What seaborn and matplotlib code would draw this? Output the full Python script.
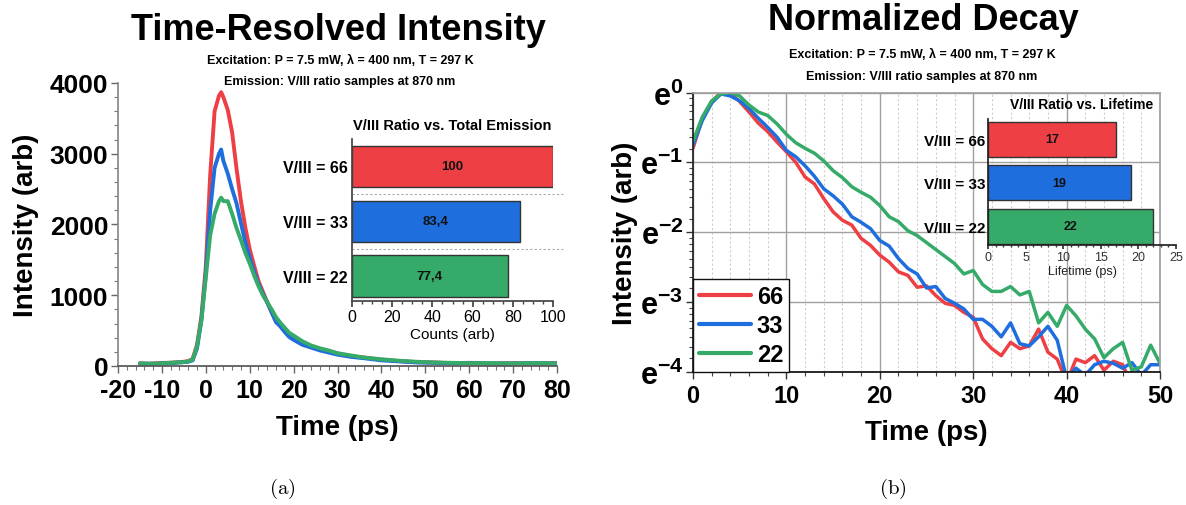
import numpy as np
import pandas as pd
import matplotlib
matplotlib.use("Agg")
import matplotlib.pyplot as plt
import seaborn as sns
from matplotlib.ticker import MultipleLocator, FixedLocator, FuncFormatter, NullFormatter

# ---------------- data ----------------
series_keys = ["66", "33", "22"]

time_a = [-15, -13, -11, -9, -7, -5, -4, -3, -2, -1, 0, 1, 2, 3, 3.5, 4, 5, 6, 7, 8, 9, 10,
          11, 12, 13, 14, 15, 16, 17, 18, 19, 20, 22, 24, 26, 28, 30, 33, 36, 40, 44, 48,
          52, 56, 60, 65, 70, 75, 80]
int_66 = [40, 30, 40, 45, 50, 60, 70, 100, 300, 700, 1400, 2700, 3600, 3820, 3870, 3800, 3620,
          3300, 2790, 2330, 1960, 1650, 1420, 1200, 1050, 900, 760, 630, 560, 490, 430, 390,
          330, 280, 240, 210, 180, 140, 120, 90, 70, 55, 50, 40, 45, 35, 40, 35, 40]
int_33 = [30, 35, 30, 40, 45, 55, 60, 80, 250, 650, 1300, 2200, 2800, 3000, 3060, 2900, 2720,
          2500, 2300, 2020, 1750, 1530, 1330, 1160, 1020, 900, 760, 620, 560, 480, 410, 370,
          300, 260, 220, 190, 160, 130, 110, 80, 65, 50, 45, 40, 40, 35, 35, 40, 35]
int_22 = [35, 30, 35, 40, 50, 55, 65, 90, 280, 650, 1250, 1850, 2150, 2330, 2380, 2330, 2330,
          2150, 1950, 1780, 1600, 1450, 1280, 1130, 1000, 900, 800, 690, 610, 540, 470, 430,
          350, 290, 250, 220, 180, 150, 120, 95, 75, 60, 50, 45, 40, 40, 35, 40, 35]

time_b = list(range(0, 51))
ln_66 = [-0.80, -0.37, -0.13, 0.00, -0.01, -0.13, -0.28, -0.44, -0.56, -0.71, -0.85, -1.00,
         -1.21, -1.31, -1.52, -1.71, -1.83, -1.90, -2.09, -2.19, -2.33, -2.43, -2.57, -2.62,
         -2.79, -2.77, -2.91, -3.02, -3.05, -3.15, -3.22, -3.53, -3.67, -3.77, -3.58, -3.67,
         -3.63, -3.39, -3.72, -3.82, -4.15, -3.82, -3.87, -3.77, -3.98, -3.85, -3.90, -4.20,
         -4.30, -4.25, -4.30]
ln_33 = [-0.75, -0.40, -0.15, -0.02, -0.05, -0.12, -0.23, -0.37, -0.50, -0.64, -0.83, -0.92,
         -1.05, -1.20, -1.38, -1.48, -1.60, -1.78, -1.86, -1.95, -2.12, -2.20, -2.38, -2.52,
         -2.60, -2.80, -2.78, -2.95, -3.02, -3.10, -3.25, -3.25, -3.35, -3.50, -3.30, -3.60,
         -3.63, -3.50, -3.35, -3.55, -4.10, -3.95, -4.05, -3.90, -3.85, -3.88, -3.95, -3.87,
         -4.05, -3.90, -3.90]
ln_22 = [-0.70, -0.35, -0.12, -0.02, 0.00, -0.05, -0.18, -0.28, -0.33, -0.45, -0.60, -0.72,
         -0.80, -0.87, -0.98, -1.12, -1.22, -1.35, -1.43, -1.50, -1.62, -1.78, -1.85, -1.98,
         -2.05, -2.15, -2.25, -2.35, -2.45, -2.60, -2.55, -2.75, -2.85, -2.85, -2.78, -2.90,
         -2.85, -3.30, -3.15, -3.35, -3.05, -3.20, -3.39, -3.53, -3.80, -3.67, -3.58, -3.98,
         -3.93, -3.62, -3.88]

ratio_labels = ["V/III = 66", "V/III = 33", "V/III = 22"]
total_emission = [100, 83.4, 77.4]
emission_text = ["100", "83,4", "77,4"]
lifetime = [17, 19, 22]
lifetime_text = ["17", "19", "22"]

colors = {"66": "#EE4044", "33": "#1E6EDD", "22": "#36AB69"}
bar_colors = {lab: colors[k] for lab, k in zip(ratio_labels, series_keys)}

# ---------------- style ----------------
sns.set_theme(style="ticks")
plt.rcParams["font.family"] = ["Liberation Sans", "DejaVu Sans"]
plt.rcParams["mathtext.fontset"] = "custom"
plt.rcParams["mathtext.rm"] = "Liberation Sans"
plt.rcParams["mathtext.bf"] = "Liberation Sans:bold"
plt.rcParams["mathtext.it"] = "Liberation Sans:italic"
plt.rcParams["axes.unicode_minus"] = False
for key in ["text.color", "axes.labelcolor", "xtick.labelcolor", "ytick.labelcolor"]:
    plt.rcParams[key] = "black"

W, H = 1186, 506
fig = plt.figure(figsize=(W / 100, H / 100), dpi=100)


def rect(x0, y0, x1, y1):
    return [x0 / W, (H - y1) / H, (x1 - x0) / W, (y1 - y0) / H]


# ---------------- panel (a) ----------------
ax1 = fig.add_axes(rect(118, 84, 557, 367))
df_a = pd.DataFrame({
    "t": time_a * 3,
    "I": int_66 + int_33 + int_22,
    "ratio": ["66"] * len(time_a) + ["33"] * len(time_a) + ["22"] * len(time_a),
})
sns.lineplot(data=df_a, x="t", y="I", hue="ratio", hue_order=series_keys, palette=colors,
             linewidth=2.8, legend=False, ax=ax1, estimator=None, sort=False)
ax1.set_xlim(-20, 80)
ax1.set_ylim(0, 4000)
ax1.xaxis.set_major_locator(MultipleLocator(10))
ax1.xaxis.set_minor_locator(MultipleLocator(2))
ax1.yaxis.set_major_locator(MultipleLocator(1000))
ax1.yaxis.set_minor_locator(MultipleLocator(200))
for s in ["top", "right"]:
    ax1.spines[s].set_visible(False)
ax1.spines["left"].set_color("#8a8a8a")
ax1.spines["bottom"].set_color("#555555")
ax1.tick_params(axis="both", which="major", direction="out", length=5, width=1,
                color="#666666", labelsize=19, pad=2, labelcolor="black")
ax1.tick_params(axis="both", which="minor", direction="out", length=3, width=0.8, color="#777777")
ax1.tick_params(axis="x", labelsize=18, pad=4)
for lab in ax1.get_xticklabels() + ax1.get_yticklabels():
    lab.set_fontweight("bold")
ax1.set_xlabel("Time (ps)", fontsize=20, fontweight="bold")
ax1.set_ylabel("Intensity (arb)", fontsize=20, fontweight="bold")
ax1.xaxis.set_label_coords(0.5, -0.17)
ax1.yaxis.set_label_coords(-0.18, 0.5)

# inset (a)
axi1 = fig.add_axes(rect(352, 140, 553, 302))
df_e = pd.DataFrame({"label": ratio_labels, "value": total_emission})
sns.barplot(data=df_e, x="value", y="label", hue="label", palette=bar_colors, orient="h",
            dodge=False, legend=False, width=0.76, saturation=1, edgecolor="#333333",
            linewidth=1, ax=axi1)
axi1.set_xlim(0, 100)
axi1.set_ylim(2.45, -0.5)
axi1.set_facecolor("none")
for p, txt in zip(axi1.patches, emission_text):
    axi1.text(p.get_x() + p.get_width() / 2, p.get_y() + p.get_height() / 2, txt,
              ha="center", va="center", fontsize=9.5, fontweight="bold", color="#111111")
for yy in [0.5, 1.5]:
    axi1.axhline(yy, xmin=0, xmax=1.05, color="#aaaaaa", lw=0.8, ls=(0, (2, 2)), clip_on=False)
for s in ["top", "right"]:
    axi1.spines[s].set_visible(False)
axi1.spines["left"].set_color("#444444")
axi1.spines["bottom"].set_color("#444444")
axi1.xaxis.set_major_locator(MultipleLocator(20))
axi1.xaxis.set_minor_locator(MultipleLocator(5))
axi1.tick_params(axis="x", which="major", direction="out", length=4, labelsize=11.5, pad=2,
                 color="#444444")
axi1.tick_params(axis="x", which="minor", direction="out", length=2, color="#444444")
axi1.tick_params(axis="y", length=0, labelsize=11.5, pad=3)
for lab in axi1.get_yticklabels():
    lab.set_fontweight("bold")
axi1.set_ylabel("")
axi1.set_xlabel("Counts (arb)", fontsize=11, labelpad=2)
axi1.set_title("V/III Ratio vs. Total Emission", fontsize=10.5, fontweight="bold", pad=7)

# ---------------- panel (b) ----------------
ax2 = fig.add_axes(rect(693, 93.5, 1160, 372.7))
df_b = pd.DataFrame({
    "t": time_b * 3,
    "I": np.exp(np.array(ln_66 + ln_33 + ln_22)),
    "ratio": ["66"] * len(time_b) + ["33"] * len(time_b) + ["22"] * len(time_b),
})
sns.lineplot(data=df_b, x="t", y="I", hue="ratio", hue_order=series_keys, palette=colors,
             linewidth=2.5, ax=ax2, estimator=None, sort=False)
ax2.set_yscale("log", base=np.e)
ax2.set_xlim(0, 50)
ax2.set_ylim(np.exp(-4), np.exp(0))
ax2.yaxis.set_major_locator(FixedLocator([np.exp(n) for n in range(-4, 1)]))
minors = []
for n in range(-4, 0):
    for j in range(1, 8):
        minors.append(np.exp(n) * (1 + j * (np.e - 1) / 8))
ax2.yaxis.set_minor_locator(FixedLocator(minors))
ax2.yaxis.set_minor_formatter(NullFormatter())
ax2.yaxis.set_major_formatter(FuncFormatter(
    lambda v, pos: r"$\mathbf{e}^{\mathbf{%d}}$" % int(round(np.log(v)))))
ax2.xaxis.set_major_locator(MultipleLocator(10))
ax2.xaxis.set_minor_locator(MultipleLocator(2))
ax2.set_axisbelow(True)
ax2.grid(which="major", axis="both", color="#a0a0a0", lw=1.0)
ax2.grid(which="minor", axis="x", color="#cfcfcf", lw=0.8, ls=(0, (2, 2)))
ax2.spines["top"].set_color("#a0a0a0")
ax2.spines["right"].set_color("#a0a0a0")
ax2.spines["left"].set_color("#222222")
ax2.spines["bottom"].set_color("#111111")
ax2.tick_params(axis="both", which="major", direction="out", length=5, width=1, color="#333333",
                pad=2)
ax2.tick_params(axis="both", which="minor", direction="out", length=3, width=0.8, color="#444444")
ax2.tick_params(axis="x", labelsize=17, pad=4)
ax2.tick_params(axis="y", labelsize=22)
for lab in ax2.get_xticklabels():
    lab.set_fontweight("bold")
ax2.set_xlabel("Time (ps)", fontsize=20, fontweight="bold")
ax2.set_ylabel("Intensity (arb)", fontsize=20, fontweight="bold")
ax2.xaxis.set_label_coords(0.5, -0.17)
ax2.yaxis.set_label_coords(-0.118, 0.5)

handles, labels = ax2.get_legend_handles_labels()
for h in handles:
    h.set_linewidth(3)
leg = ax2.legend(handles, labels, loc="lower left", bbox_to_anchor=(0, 0), borderaxespad=0,
                 fancybox=False, framealpha=1, edgecolor="#111111", handlelength=2.2,
                 handletextpad=0.25, labelspacing=0.25, borderpad=0.25,
                 prop={"size": 17, "weight": "bold"})
leg.get_frame().set_linewidth(1.0)

# inset (b)
axi2 = fig.add_axes(rect(988, 120, 1176, 246))
df_l = pd.DataFrame({"label": ratio_labels, "value": lifetime})
sns.barplot(data=df_l, x="value", y="label", hue="label", palette=bar_colors, orient="h",
            dodge=False, legend=False, width=0.8, saturation=1, edgecolor="#333333",
            linewidth=1, ax=axi2)
axi2.set_xlim(0, 25)
axi2.set_ylim(2.43, -0.47)
axi2.set_facecolor("none")
axi2.patch.set_alpha(0)
for p, txt in zip(axi2.patches, lifetime_text):
    axi2.text(p.get_x() + p.get_width() / 2, p.get_y() + p.get_height() / 2, txt,
              ha="center", va="center", fontsize=9, fontweight="bold", color="#111111")
for s in ["top", "right"]:
    axi2.spines[s].set_visible(False)
axi2.spines["left"].set_color("#222222")
axi2.spines["bottom"].set_color("#222222")
axi2.xaxis.set_major_locator(MultipleLocator(5))
axi2.xaxis.set_minor_locator(MultipleLocator(1))
axi2.tick_params(axis="x", which="major", direction="out", length=3, labelsize=9, pad=1.5,
                 color="#333333", labelcolor="#333333")
axi2.tick_params(axis="x", which="minor", direction="out", length=1.5, color="#333333")
axi2.tick_params(axis="y", length=0, labelsize=11, pad=2)
for lab in axi2.get_yticklabels():
    lab.set_fontweight("bold")
axi2.set_ylabel("")
axi2.set_xlabel("Lifetime (ps)", fontsize=9, labelpad=1, color="#222222")
axi2.set_title("V/III Ratio vs. Lifetime", fontsize=10, fontweight="bold", pad=8)

# ---------------- titles & captions ----------------
fig.text(338 / W, 1 - 30 / H, "Time-Resolved Intensity", ha="center", va="center",
         fontsize=26, fontweight="bold")
fig.text(340 / W, 1 - 61 / H, "Excitation: P = 7.5 mW, \u03bb = 400 nm, T = 297 K",
         ha="center", va="center", fontsize=9, fontweight="bold")
fig.text(340 / W, 1 - 82 / H, "Emission: V/III ratio samples at 870 nm",
         ha="center", va="center", fontsize=9, fontweight="bold")

fig.text(923 / W, 1 - 21 / H, "Normalized Decay", ha="center", va="center",
         fontsize=26, fontweight="bold")
fig.text(922 / W, 1 - 55 / H, "Excitation: P = 7.5 mW, \u03bb = 400 nm, T = 297 K",
         ha="center", va="center", fontsize=9, fontweight="bold")
fig.text(922 / W, 1 - 77 / H, "Emission: V/III ratio samples at 870 nm",
         ha="center", va="center", fontsize=9, fontweight="bold")

fig.text(282 / W, 1 - 489 / H, r"$\mathrm{(a)}$", ha="center", va="center", fontsize=15,
         math_fontfamily="cm")
fig.text(893 / W, 1 - 489 / H, r"$\mathrm{(b)}$", ha="center", va="center", fontsize=15,
         math_fontfamily="cm")

fig.savefig("out.png", dpi=100)
